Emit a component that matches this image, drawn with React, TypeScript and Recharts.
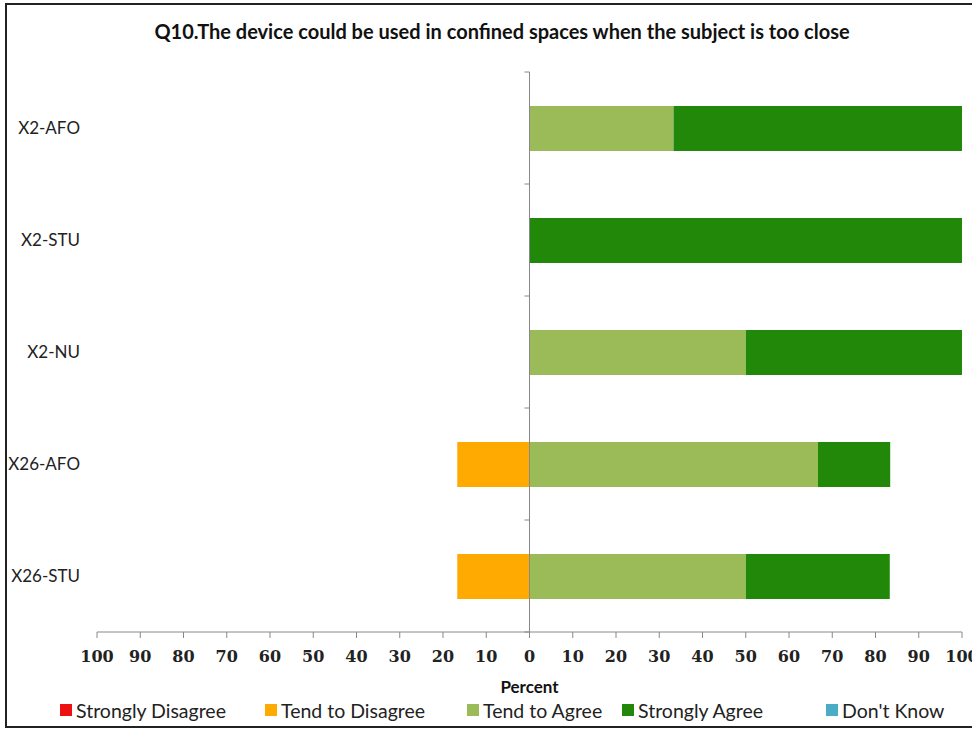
import { BarChart, Bar, XAxis, YAxis, ReferenceLine, Legend } from "recharts";

const groups = ["X2-AFO", "X2-STU", "X2-NU", "X26-AFO", "X26-STU"];
const stronglyDisagree = [0, 0, 0, 0, 0];
const tendToDisagree = [0, 0, 0, -16.7, -16.7];
const tendToAgree = [33.3, 0, 50, 66.7, 50];
const stronglyAgree = [66.7, 100, 50, 16.7, 33.3];
const dontKnow = [0, 0, 0, 0, 0];
const percentTicks = [-100, -90, -80, -70, -60, -50, -40, -30, -20, -10, 0, 10, 20, 30, 40, 50, 60, 70, 80, 90, 100];

const series = [
  { key: "sd", name: "Strongly Disagree", color: "#EE1111" },
  { key: "td", name: "Tend to Disagree", color: "#FFAA00" },
  { key: "ta", name: "Tend to Agree", color: "#9BBB59" },
  { key: "sa", name: "Strongly Agree", color: "#21880A" },
  { key: "dk", name: "Don't Know", color: "#4BACC6" },
];

const data = groups.map((g, i) => ({
  group: g,
  sd: stronglyDisagree[i],
  td: tendToDisagree[i],
  ta: tendToAgree[i],
  sa: stronglyAgree[i],
  dk: dontKnow[i],
}));

const W = 972;
const H = 733;
const M = { top: 72, right: 10, left: 8, bottom: 11 };
const Y_WIDTH = 89;
const FONT = "Lato, 'Open Sans', sans-serif";
// legend slot widths, Excel spaces the entries unevenly
const SLOT = [205, 202, 155, 204, 140];

// zero line sits in the middle of the symmetric plot area
const plotLeft = M.left + Y_WIDTH;
const zeroX = plotLeft + (W - M.right - plotLeft) / 2;
const bandH = (H - M.top - 101) / groups.length;

const GroupTick = (props: any) => {
  const { x, y, payload, index } = props;
  return (
    <g>
      <text x={x} y={y} dy={6} textAnchor="end" fontFamily={FONT} fontSize={17} fill="#222">
        {payload.value}
      </text>
      <line x1={zeroX - 5} x2={zeroX} y1={y - bandH / 2} y2={y - bandH / 2} stroke="#888" />
      {index === groups.length - 1 && (
        <line x1={zeroX - 5} x2={zeroX} y1={y + bandH / 2} y2={y + bandH / 2} stroke="#888" />
      )}
    </g>
  );
};

const LegendBox = () => (
  <div style={{ display: "flex", paddingLeft: 52, fontFamily: FONT, fontSize: 19.5, color: "#222", height: 24, alignItems: "center" }}>
    {series.map((s, i) => (
      <div key={s.key} style={{ display: "flex", alignItems: "center", width: SLOT[i], flex: "none", whiteSpace: "nowrap" }}>
        <span style={{ width: 12, height: 12, background: s.color, marginRight: 4, display: "inline-block" }} />
        <span>{s.name}</span>
      </div>
    ))}
  </div>
);

export default function App() {
  return (
    <div style={{ position: "absolute", left: 0, top: 0, width: W, height: H, overflow: "hidden", background: "#fff" }}>
      <div
        style={{
          position: "absolute",
          left: 5,
          top: 3,
          width: 990,
          height: 725,
          border: "2px solid #222",
          boxSizing: "border-box",
        }}
      />
      <div
        style={{
          position: "absolute",
          top: 19,
          left: 0,
          width: 1004,
          textAlign: "center",
          fontFamily: FONT,
          fontWeight: "bold",
          fontSize: 20,
          color: "#111",
        }}
      >
        Q10.The device could be used in confined spaces when the subject is too close
      </div>
      <BarChart
        width={W}
        height={H}
        data={data}
        layout="vertical"
        stackOffset="sign"
        barSize={45}
        margin={M}
      >
        <XAxis
          type="number"
          domain={[-100, 100]}
          ticks={percentTicks}
          interval={0}
          tickFormatter={(v: number) => String(Math.abs(v))}
          stroke="#888"
          tickSize={6}
          tickMargin={13}
          height={66}
          tick={{ fontFamily: "'DejaVu Serif', serif", fontWeight: "bold", fontSize: 16, fill: "#222" }}
          label={{
            value: "Percent",
            position: "insideBottom",
            offset: 5,
            fontFamily: FONT,
            fontWeight: "bold",
            fontSize: 17,
            fill: "#111",
          }}
        />
        <YAxis
          type="category"
          dataKey="group"
          width={Y_WIDTH}
          axisLine={false}
          tickLine={false}
          tickSize={0}
          tickMargin={17}
          tick={<GroupTick />}
        />
        <ReferenceLine x={0} stroke="#888" />
        {series.map((s) => (
          <Bar key={s.key} dataKey={s.key} name={s.name} stackId="a" fill={s.color} isAnimationActive={false} />
        ))}
        <Legend verticalAlign="bottom" content={<LegendBox />} />
      </BarChart>
    </div>
  );
}
